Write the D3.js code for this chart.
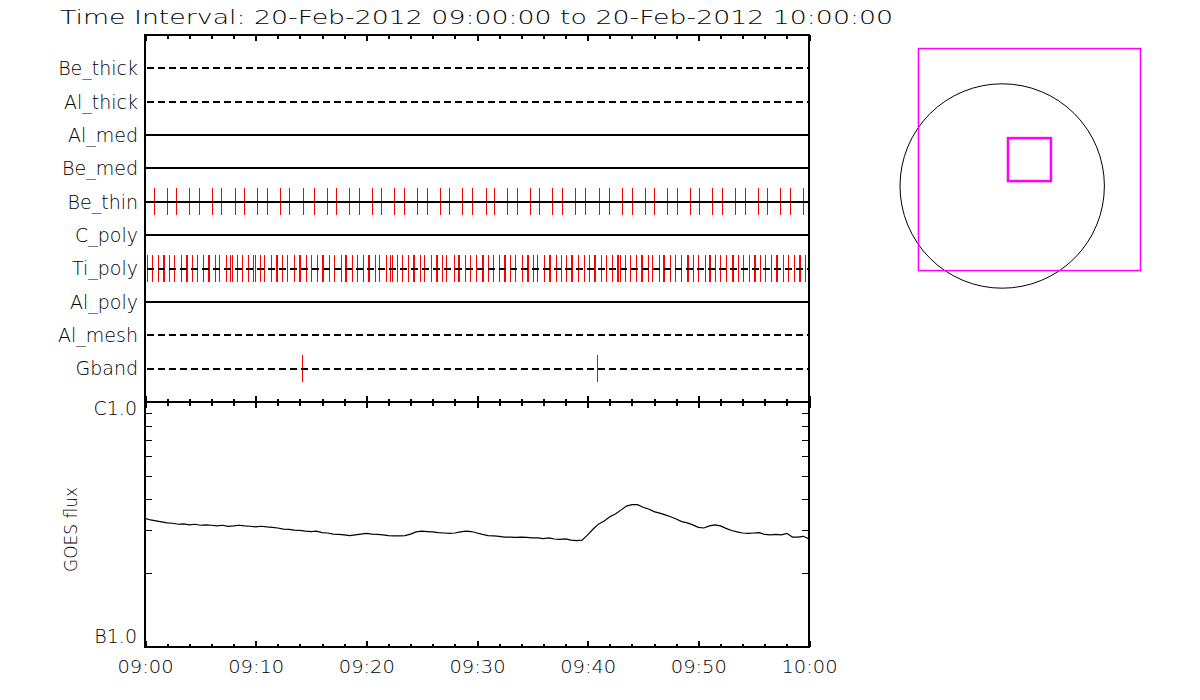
<!DOCTYPE html>
<html><head><meta charset="utf-8">
<script src="https://cdn.jsdelivr.net/npm/d3@7"></script>
<style>
body{margin:0;background:#fff;}
svg{display:block;background:#fff;}
text{font-family:"DejaVu Sans",sans-serif;fill:#000;font-weight:200;}
</style></head><body>
<svg id="chart" width="1200" height="700"></svg>
<script>
// ---------------- data ----------------
const titleText = "Time Interval: 20-Feb-2012 09:00:00 to 20-Feb-2012 10:00:00";
const channels = ["Be_thick","Al_thick","Al_med","Be_med","Be_thin","C_poly","Ti_poly","Al_poly","Al_mesh","Gband"];
const channelDashed = [true,true,false,false,false,false,true,false,true,true];
// exposure times, minutes after 09:00 UT
const beThinEvents = [0.0,0.84,2.01,2.83,4.00,4.91,6.08,6.89,8.16,8.97,10.15,11.05,12.23,13.04,14.30,15.30,16.47,17.29,18.46,19.36,20.54,21.35,22.53,23.43,24.60,25.51,26.68,27.50,28.67,29.59,30.79,31.56,32.74,33.64,34.82,35.63,36.80,37.71,38.88,39.79,41.05,41.95,43.13,44.03,45.21,46.02,47.19,48.10,49.27,50.09,51.26,52.16,53.34,54.24,55.42,56.23,57.40,58.31,59.48];
const tiPolyEvents = [0.21,0.66,1.20,1.65,1.76,2.20,2.65,3.28,3.68,3.82,4.27,4.73,5.27,5.71,5.81,6.35,6.71,7.35,7.71,7.86,8.34,8.79,9.33,9.80,9.90,10.42,10.78,11.41,11.86,11.95,12.41,12.86,13.49,13.88,13.97,14.57,15.03,15.57,16.02,16.11,16.65,17.10,17.74,18.10,18.19,18.73,19.18,19.73,20.18,20.27,20.81,21.17,21.80,22.16,22.35,22.80,23.25,23.79,24.24,24.33,24.88,25.24,25.87,26.32,26.41,26.86,27.23,27.95,28.31,28.40,28.94,29.41,29.93,30.42,30.51,31.02,31.42,32.01,32.41,32.50,33.01,33.46,34.04,34.49,34.58,35.09,35.45,36.03,36.53,36.62,37.11,37.56,38.07,38.52,38.61,39.15,39.64,40.09,40.60,40.69,41.23,41.68,42.22,42.65,42.71,42.89,43.35,43.85,44.37,44.84,44.94,45.48,45.84,46.47,46.83,46.92,47.47,47.92,48.46,48.95,49.04,49.49,49.94,50.57,50.99,51.08,51.53,51.98,52.53,53.01,53.10,53.58,54.03,54.60,55.06,55.15,55.60,56.05,56.59,57.04,57.13,57.67,58.13,58.67,59.12,59.21,59.66];
const gbandEvents = [14.21,40.87];
const eventSeries = {"Be_thin": beThinEvents, "Ti_poly": tiPolyEvents, "Gband": gbandEvents};
// GOES 1-8 A flux, units of 1e-7 W/m^2, every 0.5 min from 09:00
const goesFlux = [3.35,3.30,3.27,3.24,3.21,3.20,3.17,3.18,3.15,3.17,3.14,3.15,3.14,3.12,3.14,3.11,3.12,3.14,3.12,3.11,
3.09,3.11,3.09,3.08,3.06,3.03,3.02,3.00,2.99,2.97,2.96,2.97,2.93,2.92,2.89,2.88,2.87,2.85,2.87,2.89,
2.91,2.89,2.88,2.87,2.85,2.84,2.84,2.85,2.89,2.95,2.97,2.96,2.95,2.93,2.92,2.91,2.92,2.95,2.97,2.96,
2.92,2.88,2.85,2.84,2.83,2.81,2.81,2.80,2.81,2.80,2.79,2.79,2.77,2.79,2.76,2.75,2.76,2.73,2.72,2.73,
2.87,3.03,3.18,3.27,3.40,3.49,3.62,3.76,3.81,3.81,3.72,3.66,3.57,3.52,3.46,3.40,3.33,3.25,3.21,3.15,
3.08,3.06,3.12,3.15,3.12,3.05,2.99,2.95,2.92,2.91,2.92,2.93,2.88,2.87,2.88,2.87,2.91,2.81,2.81,2.83,2.76];
const goesStepMin = 0.5;
const fluxTicksMinor = [2e-7,3e-7,4e-7,5e-7,6e-7,7e-7,8e-7,9e-7];
const fluxTickLabels = [{v:1e-6,label:"C1.0"},{v:1e-7,label:"B1.0"}];
const yAxisTitle = "GOES flux";
// context map (arcsec)
const sunRadius = 975;
const fovCenter = [260, 252];
const fovSizes = [2118, 410];

// ---------------- drawing ----------------
const svg = d3.select("#chart");
const L = 145, R = 809, T = 35, M = 402, B = 647;
const t0 = Date.UTC(2012,1,20,9,0,0);
const toDate = m => new Date(t0 + m*60000);
const x = d3.scaleUtc().domain([toDate(0), toDate(60)]).range([L, R]);
const yCat = d3.scalePoint().domain(channels).range([T, M]).padding(1);
const yFlux = d3.scaleLog().domain([1e-7, 1e-6]).range([B, M]);

svg.append("text").attr("x", 60).attr("y", 24).attr("font-size", 19)
  .attr("textLength", 833).attr("lengthAdjust", "spacingAndGlyphs").text(titleText);

// event marks (red)
channels.forEach(c => {
  const ev = eventSeries[c];
  if (!ev) return;
  svg.append("g").selectAll("line").data(ev).join("line")
    .attr("x1", d => Math.round(x(toDate(d))) + 0.5).attr("x2", d => Math.round(x(toDate(d))) + 0.5)
    .attr("y1", yCat(c) - 13.5).attr("y2", yCat(c) + 13.5)
    .attr("stroke", "#ff0000").attr("stroke-width", 1).attr("shape-rendering", "crispEdges");
});
// channel lines
svg.append("g").selectAll("line").data(channels).join("line")
  .attr("x1", L).attr("x2", R)
  .attr("y1", d => yCat(d)).attr("y2", d => yCat(d))
  .attr("stroke", "#000").attr("stroke-width", 2)
  .attr("stroke-dasharray", (d,i) => channelDashed[i] ? "7,4" : null)
  .attr("stroke-dashoffset", -2)
  .attr("shape-rendering", "crispEdges");
// channel labels
svg.append("g").selectAll("text").data(channels).join("text")
  .attr("x", 138).attr("y", d => yCat(d)).attr("dy", "0.36em")
  .attr("text-anchor", "end").attr("font-size", 19).text(d => d);

// frames
[[T, M], [M, B]].forEach(([a, b]) => {
  svg.append("rect").attr("x", L).attr("y", a).attr("width", R - L).attr("height", b - a)
    .attr("fill", "none").attr("stroke", "#000").attr("stroke-width", 2).attr("shape-rendering", "crispEdges");
});

const majorT = x.ticks(d3.utcMinute.every(10));
const minorT = x.ticks(d3.utcMinute.every(2)).filter(d => d.getUTCMinutes() % 10 !== 0);
function ticks(axisFn, y, vals, size) {
  const g = svg.append("g").attr("transform", `translate(0,${y})`)
    .call(axisFn(x).tickValues(vals).tickSize(size).tickFormat(""));
  g.select(".domain").remove();
  g.selectAll("line").attr("stroke-width", 2).attr("shape-rendering", "crispEdges");
  return g;
}
ticks(d3.axisBottom, T, majorT, 6); ticks(d3.axisBottom, T, minorT, 3.5);
ticks(d3.axisTop, M, majorT, 6); ticks(d3.axisTop, M, minorT, 3.5);
ticks(d3.axisBottom, M, majorT, 6); ticks(d3.axisBottom, M, minorT, 3.5);
ticks(d3.axisTop, B, majorT, 6); ticks(d3.axisTop, B, minorT, 3.5);

const xl = svg.append("g").attr("transform", `translate(0,${B})`)
  .call(d3.axisBottom(x).tickValues(majorT).tickSize(0).tickPadding(13).tickFormat(d3.utcFormat("%H:%M")));
xl.select(".domain").remove();
xl.selectAll("text").attr("font-size", 18).attr("font-family", "DejaVu Sans").attr("font-weight", 200)
  .attr("textLength", 56).attr("lengthAdjust", "spacingAndGlyphs");

// flux axes
const yl = svg.append("g").attr("transform", `translate(${L},0)`)
  .call(d3.axisRight(yFlux).tickValues(fluxTicksMinor).tickSize(7).tickFormat(""));
yl.select(".domain").remove();
yl.selectAll("line").attr("stroke-width", 1).attr("shape-rendering", "crispEdges");
const yr = svg.append("g").attr("transform", `translate(${R},0)`)
  .call(d3.axisLeft(yFlux).tickValues(fluxTicksMinor).tickSize(7).tickFormat(""));
yr.select(".domain").remove();
yr.selectAll("line").attr("stroke-width", 1).attr("shape-rendering", "crispEdges");

svg.append("g").selectAll("text").data(fluxTickLabels).join("text")
  .attr("x", 137).attr("y", d => yFlux(d.v) + (d.v > 2e-7 ? 13 : -4))
  .attr("text-anchor", "end").attr("font-size", 19).text(d => d.label);

svg.append("text").attr("transform", `translate(77,${(M + B) / 2 + 5}) rotate(-90)`)
  .attr("text-anchor", "middle").attr("font-size", 17).text(yAxisTitle);

// GOES curve
const line = d3.line().x((d, i) => x(toDate(i * goesStepMin))).y(d => yFlux(d * 1e-7));
svg.append("path").datum(goesFlux).attr("d", line).attr("fill", "none")
  .attr("stroke", "#000").attr("stroke-width", 1.2);

// context map
const sx = d3.scaleLinear().domain([-sunRadius, sunRadius]).range([900, 1104.4]);
const sy = d3.scaleLinear().domain([-sunRadius, sunRadius]).range([288.2, 83.8]);
svg.append("circle").attr("cx", sx(0)).attr("cy", sy(0)).attr("r", sx(sunRadius) - sx(0))
  .attr("fill", "none").attr("stroke", "#000").attr("stroke-width", 1);
fovSizes.forEach((s, i) => {
  svg.append("rect")
    .attr("x", sx(fovCenter[0] - s / 2)).attr("y", sy(fovCenter[1] + s / 2))
    .attr("width", sx(s) - sx(0)).attr("height", sy(0) - sy(s))
    .attr("fill", "none").attr("stroke", "#ff00ff").attr("stroke-width", i === 0 ? 1.5 : 2.5);
});
</script></body></html>
